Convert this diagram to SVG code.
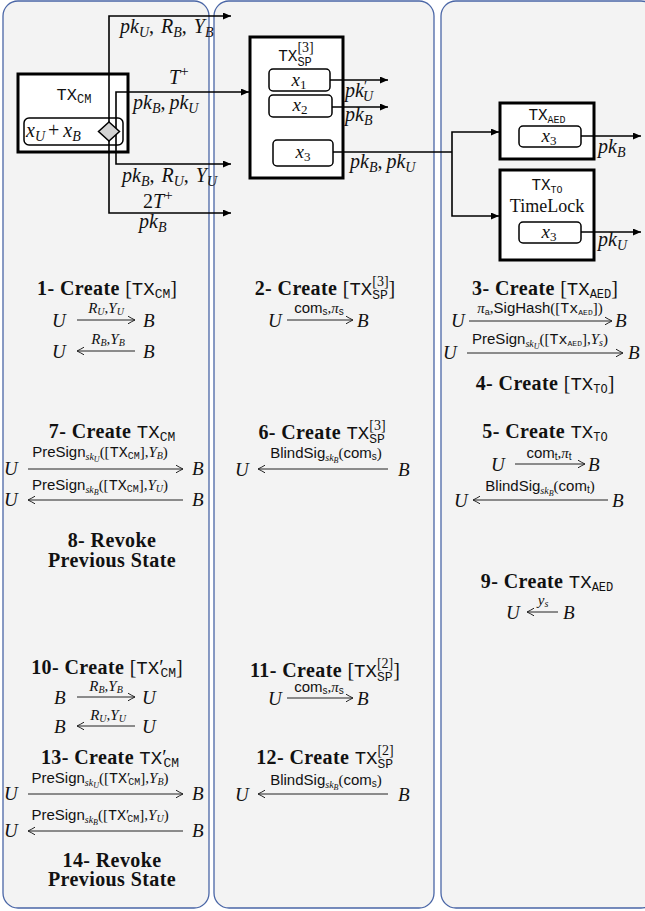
<svg xmlns="http://www.w3.org/2000/svg" width="645" height="911" viewBox="0 0 645 911">
<style>
.panel{fill:#f3f3f3;stroke:#4a66a6;stroke-width:1.3}
.box{fill:#fff;stroke:#000;stroke-width:3}
.ibox{fill:#fff;stroke:#000;stroke-width:1.5}
.c{fill:none;stroke:#000;stroke-width:1.6}
.ma{fill:none;stroke:#222;stroke-width:1}
.t{font-family:"Liberation Serif",serif;fill:#111}
.h{font-weight:bold;font-size:20px;text-anchor:middle;letter-spacing:0.4px}
.n{font-weight:normal;letter-spacing:0}
.mi{font-style:italic}
.big{font-size:19px}
.lab{font-size:15px;text-anchor:middle}
.ss{font-size:10px}
.s7{font-size:8px}
.sf{font-family:"Liberation Sans",sans-serif;font-style:normal}
.tt{font-family:"Liberation Mono",monospace;font-style:normal;font-weight:normal;letter-spacing:0}
.mid{text-anchor:middle}
.cl{font-size:20px;font-style:italic}
.cs{font-size:14px}
</style>
<defs>
<marker id="tri" markerUnits="userSpaceOnUse" markerWidth="9" markerHeight="8" refX="8" refY="3.5" orient="auto">
<path d="M0,0 L8,3.5 L0,7 z" fill="#000"/>
</marker>
<marker id="tex" markerUnits="userSpaceOnUse" markerWidth="10" markerHeight="10" refX="8" refY="5" orient="auto">
<path d="M1,1.2 Q5,3.6 8,5 Q5,6.4 1,8.8" fill="none" stroke="#222" stroke-width="1"/>
</marker>
</defs>

<g id="panels">
<rect class="panel" x="3" y="1" width="206" height="907" rx="15"/>
<rect class="panel" x="214" y="1" width="220" height="907" rx="15"/>
<rect class="panel" x="441" y="1" width="215" height="907" rx="15"/>
</g>

<g id="tx-cm">
<rect class="box" x="18" y="74" width="110" height="78"/>
<text class="t mid" x="74" y="100"><tspan class="tt" font-size="17">TX</tspan><tspan class="tt" font-size="12" dy="3">CM</tspan></text>
<rect class="ibox" x="24" y="118" width="99" height="27" rx="5"/>
<text class="t mi" x="26" y="137" font-size="20">x<tspan font-size="14" dy="4">U</tspan><tspan dy="-4" font-style="normal" dx="3">+</tspan><tspan dx="4">x</tspan><tspan font-size="14" dy="4">B</tspan></text>
</g>

<g id="tx-sp">
<rect class="box" x="250" y="37" width="93" height="141"/>
<text class="t mid" x="296" y="61"><tspan class="tt" font-size="16">TX</tspan><tspan class="tt" font-size="12" dy="5">SP</tspan><tspan font-size="14" dx="-14.4" dy="-14">[3]</tspan></text>
<rect class="ibox" x="269" y="69" width="61" height="22" rx="4"/>
<text class="t mi mid" x="299" y="86" font-size="19">x<tspan font-style="normal" font-size="13" dy="3">1</tspan></text>
<rect class="ibox" x="269" y="95" width="63" height="22" rx="4"/>
<text class="t mi mid" x="300" y="111" font-size="19">x<tspan font-style="normal" font-size="13" dy="3">2</tspan></text>
<rect class="ibox" x="273" y="140" width="60" height="26" rx="4"/>
<text class="t mi mid" x="303" y="158" font-size="19">x<tspan font-style="normal" font-size="13" dy="3">3</tspan></text>
</g>

<g id="tx-aed">
<rect class="box" x="500" y="103" width="94" height="56"/>
<text class="t mid" x="547" y="120"><tspan class="tt" font-size="16">TX</tspan><tspan class="tt" font-size="10" dy="3">AED</tspan></text>
<rect class="ibox" x="519" y="126" width="62" height="21" rx="4"/>
<text class="t mi mid" x="549" y="142" font-size="19">x<tspan font-style="normal" font-size="13" dy="3">3</tspan></text>
</g>

<g id="tx-to">
<rect class="box" x="500" y="170" width="94" height="90"/>
<text class="t mid" x="547" y="190"><tspan class="tt" font-size="16">TX</tspan><tspan class="tt" font-size="10" dy="3">TO</tspan></text>
<text class="t mid" x="547" y="212" font-size="18">TimeLock</text>
<rect class="ibox" x="519" y="222" width="62" height="21" rx="4"/>
<text class="t mi mid" x="549" y="238" font-size="19">x<tspan font-style="normal" font-size="13" dy="3">3</tspan></text>
</g>

<g id="connectors">
<path class="c" d="M109,131 V16 H231" marker-end="url(#tri)"/>
<path class="c" d="M109,131 V213 H231" marker-end="url(#tri)"/>
<path class="c" d="M116,131 V92 H249" marker-end="url(#tri)"/>
<path class="c" d="M116,131 V164 H231" marker-end="url(#tri)"/>
<path class="c" d="M330,80 H388" marker-end="url(#tri)"/>
<path class="c" d="M332,107 H388" marker-end="url(#tri)"/>
<path class="c" d="M333,152 H452"/>
<path class="c" d="M452,152 V132 H499" marker-end="url(#tri)"/>
<path class="c" d="M452,152 V216 H499" marker-end="url(#tri)"/>
<path class="c" d="M581,136 H641" marker-end="url(#tri)"/>
<path class="c" d="M581,232 H641" marker-end="url(#tri)"/>
<g class="t">
<text class="cl" x="120" y="33">pk<tspan class="cs" dy="4">U</tspan><tspan dy="-4" font-style="normal">,</tspan><tspan dx="7">R</tspan><tspan class="cs" dy="4">B</tspan><tspan dy="-4" font-style="normal">,</tspan><tspan dx="7">Y</tspan><tspan class="cs" dy="4">B</tspan></text>
<text class="cl" x="169" y="84" font-size="21">T<tspan font-style="normal" font-size="15" dy="-8">+</tspan></text>
<text class="cl" x="133" y="109">pk<tspan class="cs" dy="4">B</tspan><tspan dy="-4" font-style="normal">,</tspan><tspan dx="4">pk</tspan><tspan class="cs" dy="4">U</tspan></text>
<text class="cl" x="122" y="182">pk<tspan class="cs" dy="4">B</tspan><tspan dy="-4" font-style="normal">,</tspan><tspan dx="7">R</tspan><tspan class="cs" dy="4">U</tspan><tspan dy="-4" font-style="normal">,</tspan><tspan dx="7">Y</tspan><tspan class="cs" dy="4">U</tspan></text>
<text class="cl" x="143" y="208" font-size="21"><tspan font-style="normal">2</tspan>T<tspan font-style="normal" font-size="15" dy="-8">+</tspan></text>
<text class="cl" x="139" y="228">pk<tspan class="cs" dy="4">B</tspan></text>
<text class="cl" x="345" y="97">pk<tspan font-style="normal" class="cs" dy="-6">′</tspan><tspan class="cs" dx="-4" dy="10">U</tspan></text>
<text class="cl" x="345" y="121">pk<tspan class="cs" dy="4">B</tspan></text>
<text class="cl" x="350" y="168">pk<tspan class="cs" dy="4">B</tspan><tspan dy="-4" font-style="normal">,</tspan><tspan dx="4">pk</tspan><tspan class="cs" dy="4">U</tspan></text>
<text class="cl" x="598" y="153">pk<tspan class="cs" dy="4">B</tspan></text>
<text class="cl" x="598" y="246">pk<tspan class="cs" dy="4">U</tspan></text>
</g>
</g>

<g id="tx-cm-port">
<path d="M109,122 L119.5,131.5 L109,141 L98.5,131.5 Z" fill="#d3d3d3" stroke="#000" stroke-width="1.5"/>
</g>

<g id="steps">
<!-- Panel 1 -->
<text class="t h" x="107" y="295">1- Create <tspan class="n">[</tspan><tspan class="tt" font-size="19">TX</tspan><tspan class="tt" font-size="13" dy="3">CM</tspan><tspan class="n" dy="-3">]</tspan></text>
<text class="t mi big" x="52" y="327">U</text>
<line class="ma" x1="77" y1="320" x2="135" y2="320" marker-end="url(#tex)"/>
<text class="t lab" x="106" y="313" font-size="16"><tspan class="mi">R</tspan><tspan class="mi ss" dy="2">U</tspan><tspan dy="-2">,</tspan><tspan class="mi">Y</tspan><tspan class="mi ss" dy="2">U</tspan></text>
<text class="t mi big" x="143" y="327">B</text>
<text class="t mi big" x="52" y="358">U</text>
<line class="ma" x1="135" y1="351" x2="77" y2="351" marker-end="url(#tex)"/>
<text class="t lab" x="108" y="344" font-size="16"><tspan class="mi">R</tspan><tspan class="mi ss" dy="2">B</tspan><tspan dy="-2">,</tspan><tspan class="mi">Y</tspan><tspan class="mi ss" dy="2">B</tspan></text>
<text class="t mi big" x="143" y="358">B</text>

<text class="t h" x="112" y="438">7- Create <tspan class="tt" font-size="19">TX</tspan><tspan class="tt" font-size="13" dy="3">CM</tspan></text>
<text class="t mi big" x="4" y="475">U</text>
<line class="ma" x1="28" y1="469" x2="183" y2="469" marker-end="url(#tex)"/>
<text class="t lab" x="100" y="457"><tspan class="sf">PreSign</tspan><tspan class="mi ss" dy="3">sk</tspan><tspan class="mi s7" dy="2">U</tspan><tspan dy="-5">([</tspan><tspan class="tt">TX</tspan><tspan class="tt" font-size="10" dy="2">CM</tspan><tspan dy="-2">],</tspan><tspan class="mi">Y</tspan><tspan class="mi ss" dy="2">B</tspan><tspan dy="-2">)</tspan></text>
<text class="t mi big" x="192" y="475">B</text>
<text class="t mi big" x="4" y="506">U</text>
<line class="ma" x1="183" y1="500" x2="28" y2="500" marker-end="url(#tex)"/>
<text class="t lab" x="100" y="490"><tspan class="sf">PreSign</tspan><tspan class="mi ss" dy="3">sk</tspan><tspan class="mi s7" dy="2">B</tspan><tspan dy="-5">([</tspan><tspan class="tt">TX</tspan><tspan class="tt" font-size="10" dy="2">CM</tspan><tspan dy="-2">],</tspan><tspan class="mi">Y</tspan><tspan class="mi ss" dy="2">U</tspan><tspan dy="-2">)</tspan></text>
<text class="t mi big" x="192" y="506">B</text>
<text class="t h" x="112" y="547">8- Revoke</text>
<text class="t h" x="112" y="567">Previous State</text>

<text class="t h" x="107" y="674">10- Create <tspan class="n">[</tspan><tspan class="tt" font-size="19">TX</tspan><tspan class="n">′</tspan><tspan class="tt" font-size="13" dx="-3" dy="3">CM</tspan><tspan class="n" dy="-3">]</tspan></text>
<text class="t mi big" x="54" y="704">B</text>
<line class="ma" x1="77" y1="697" x2="135" y2="697" marker-end="url(#tex)"/>
<text class="t lab" x="106" y="691" font-size="15"><tspan class="mi">R</tspan><tspan class="mi ss" dy="2">B</tspan><tspan dy="-2">,</tspan><tspan class="mi">Y</tspan><tspan class="mi ss" dy="2">B</tspan></text>
<text class="t mi big" x="142" y="704">U</text>
<text class="t mi big" x="54" y="733">B</text>
<line class="ma" x1="135" y1="726" x2="77" y2="726" marker-end="url(#tex)"/>
<text class="t lab" x="108" y="720" font-size="15"><tspan class="mi">R</tspan><tspan class="mi ss" dy="2">U</tspan><tspan dy="-2">,</tspan><tspan class="mi">Y</tspan><tspan class="mi ss" dy="2">U</tspan></text>
<text class="t mi big" x="142" y="733">U</text>

<text class="t h" x="110" y="764">13- Create <tspan class="tt" font-size="19">TX</tspan><tspan class="n">′</tspan><tspan class="tt" font-size="13" dx="-3" dy="3">CM</tspan></text>
<text class="t mi big" x="4" y="800">U</text>
<line class="ma" x1="28" y1="794" x2="183" y2="794" marker-end="url(#tex)"/>
<text class="t lab" x="100" y="783"><tspan class="sf">PreSign</tspan><tspan class="mi ss" dy="3">sk</tspan><tspan class="mi s7" dy="2">U</tspan><tspan dy="-5">([</tspan><tspan class="tt">TX</tspan><tspan>′</tspan><tspan class="tt" font-size="10" dx="-2" dy="2">CM</tspan><tspan dy="-2">],</tspan><tspan class="mi">Y</tspan><tspan class="mi ss" dy="2">B</tspan><tspan dy="-2">)</tspan></text>
<text class="t mi big" x="192" y="800">B</text>
<text class="t mi big" x="4" y="837">U</text>
<line class="ma" x1="183" y1="831" x2="28" y2="831" marker-end="url(#tex)"/>
<text class="t lab" x="100" y="820"><tspan class="sf">PreSign</tspan><tspan class="mi ss" dy="3">sk</tspan><tspan class="mi s7" dy="2">B</tspan><tspan dy="-5">([</tspan><tspan class="tt">TX</tspan><tspan>′</tspan><tspan class="tt" font-size="10" dx="-2" dy="2">CM</tspan><tspan dy="-2">],</tspan><tspan class="mi">Y</tspan><tspan class="mi ss" dy="2">U</tspan><tspan dy="-2">)</tspan></text>
<text class="t mi big" x="192" y="837">B</text>
<text class="t h" x="112" y="867">14- Revoke</text>
<text class="t h" x="112" y="886">Previous State</text>

<!-- Panel 2 -->
<text class="t h" x="325" y="295">2- Create <tspan class="n">[</tspan><tspan class="tt" font-size="19">TX</tspan><tspan class="tt" font-size="13" dy="4">SP</tspan><tspan class="n" font-size="14" dx="-15.6" dy="-13">[3]</tspan><tspan class="n" dy="9">]</tspan></text>
<text class="t mi big" x="268" y="327">U</text>
<line class="ma" x1="287" y1="320" x2="353" y2="320" marker-end="url(#tex)"/>
<text class="t lab" x="319" y="313" font-size="16"><tspan class="sf">com</tspan><tspan class="sf" font-size="10" dy="2">s</tspan><tspan dy="-2">,</tspan><tspan class="mi">π</tspan><tspan class="sf" font-size="10" dy="2">s</tspan></text>
<text class="t mi big" x="357" y="327">B</text>

<text class="t h" x="322" y="439">6- Create <tspan class="tt" font-size="19">TX</tspan><tspan class="tt" font-size="13" dy="4">SP</tspan><tspan class="n" font-size="14" dx="-15.6" dy="-13">[3]</tspan></text>
<text class="t mi big" x="235" y="476">U</text>
<line class="ma" x1="388" y1="469" x2="258" y2="469" marker-end="url(#tex)"/>
<text class="t lab" x="326" y="458" font-size="16"><tspan class="sf">BlindSig</tspan><tspan class="mi ss" dy="3">sk</tspan><tspan class="mi s7" dy="2">B</tspan><tspan dy="-5">(</tspan><tspan class="sf">com</tspan><tspan class="sf" font-size="10" dy="2">s</tspan><tspan dy="-2">)</tspan></text>
<text class="t mi big" x="398" y="476">B</text>

<text class="t h" x="325" y="677">11- Create <tspan class="n">[</tspan><tspan class="tt" font-size="19">TX</tspan><tspan class="tt" font-size="13" dy="4">SP</tspan><tspan class="n" font-size="14" dx="-15.6" dy="-13">[2]</tspan><tspan class="n" dy="9">]</tspan></text>
<text class="t mi big" x="268" y="705">U</text>
<line class="ma" x1="287" y1="698" x2="353" y2="698" marker-end="url(#tex)"/>
<text class="t lab" x="319" y="692" font-size="15"><tspan class="sf">com</tspan><tspan class="sf" font-size="10" dy="2">s</tspan><tspan dy="-2">,</tspan><tspan class="mi">π</tspan><tspan class="sf" font-size="10" dy="2">s</tspan></text>
<text class="t mi big" x="357" y="705">B</text>

<text class="t h" x="325" y="764">12- Create <tspan class="tt" font-size="19">TX</tspan><tspan class="tt" font-size="13" dy="4">SP</tspan><tspan class="n" font-size="14" dx="-15.6" dy="-13">[2]</tspan></text>
<text class="t mi big" x="235" y="801">U</text>
<line class="ma" x1="388" y1="794" x2="258" y2="794" marker-end="url(#tex)"/>
<text class="t lab" x="326" y="785" font-size="16"><tspan class="sf">BlindSig</tspan><tspan class="mi ss" dy="3">sk</tspan><tspan class="mi s7" dy="2">B</tspan><tspan dy="-5">(</tspan><tspan class="sf">com</tspan><tspan class="sf" font-size="10" dy="2">s</tspan><tspan dy="-2">)</tspan></text>
<text class="t mi big" x="398" y="801">B</text>

<!-- Panel 3 -->
<text class="t h" x="545" y="295">3- Create <tspan class="n">[</tspan><tspan class="tt" font-size="19">TX</tspan><tspan class="tt" font-size="12" dy="3">AED</tspan><tspan class="n" dy="-3">]</tspan></text>
<text class="t mi big" x="451" y="327">U</text>
<line class="ma" x1="469" y1="321" x2="612" y2="321" marker-end="url(#tex)"/>
<text class="t lab" x="540" y="313" font-size="14"><tspan class="mi">π</tspan><tspan class="sf" font-size="9" dy="2">a</tspan><tspan dy="-2">,</tspan><tspan class="sf">SigHash</tspan><tspan>([</tspan><tspan class="tt">Tx</tspan><tspan class="tt" font-size="8" dy="2">AED</tspan><tspan dy="-2">])</tspan></text>
<text class="t mi big" x="615" y="327">B</text>
<text class="t mi big" x="443" y="359">U</text>
<line class="ma" x1="467" y1="353" x2="623" y2="353" marker-end="url(#tex)"/>
<text class="t lab" x="540" y="344" font-size="14"><tspan class="sf">PreSign</tspan><tspan class="mi ss" dy="3">sk</tspan><tspan class="mi s7" dy="2">U</tspan><tspan dy="-5">([</tspan><tspan class="tt">Tx</tspan><tspan class="tt" font-size="8" dy="2">AED</tspan><tspan dy="-2">],</tspan><tspan class="mi">Y</tspan><tspan class="mi ss" dy="2">s</tspan><tspan dy="-2">)</tspan></text>
<text class="t mi big" x="628" y="359">B</text>

<text class="t h" x="545" y="390">4- Create <tspan class="n">[</tspan><tspan class="tt" font-size="19">TX</tspan><tspan class="tt" font-size="12" dy="3">TO</tspan><tspan class="n" dy="-3">]</tspan></text>

<text class="t h" x="545" y="438">5- Create <tspan class="tt" font-size="19">TX</tspan><tspan class="tt" font-size="12" dy="3">TO</tspan></text>
<text class="t mi big" x="491" y="471">U</text>
<line class="ma" x1="515" y1="464" x2="585" y2="464" marker-end="url(#tex)"/>
<text class="t lab" x="549" y="458" font-size="16"><tspan class="sf">com</tspan><tspan class="sf" font-size="10" dy="2">t</tspan><tspan dy="-2">,</tspan><tspan class="mi">π</tspan><tspan class="sf" font-size="10" dy="2">t</tspan></text>
<text class="t mi big" x="588" y="471">B</text>
<text class="t mi big" x="454" y="507">U</text>
<line class="ma" x1="608" y1="500" x2="473" y2="500" marker-end="url(#tex)"/>
<text class="t lab" x="540" y="491" font-size="16"><tspan class="sf">BlindSig</tspan><tspan class="mi ss" dy="3">sk</tspan><tspan class="mi s7" dy="2">B</tspan><tspan dy="-5">(</tspan><tspan class="sf">com</tspan><tspan class="sf" font-size="10" dy="2">t</tspan><tspan dy="-2">)</tspan></text>
<text class="t mi big" x="612" y="507">B</text>

<text class="t h" x="547" y="588">9- Create <tspan class="tt" font-size="19">TX</tspan><tspan class="tt" font-size="12" dy="3">AED</tspan></text>
<text class="t mi big" x="506" y="619">U</text>
<line class="ma" x1="558" y1="612" x2="527" y2="612" marker-end="url(#tex)"/>
<text class="t lab" x="543" y="605" font-size="16"><tspan class="mi">y</tspan><tspan class="mi ss" dy="2">s</tspan></text>
<text class="t mi big" x="563" y="619">B</text>
</g>
</svg>
